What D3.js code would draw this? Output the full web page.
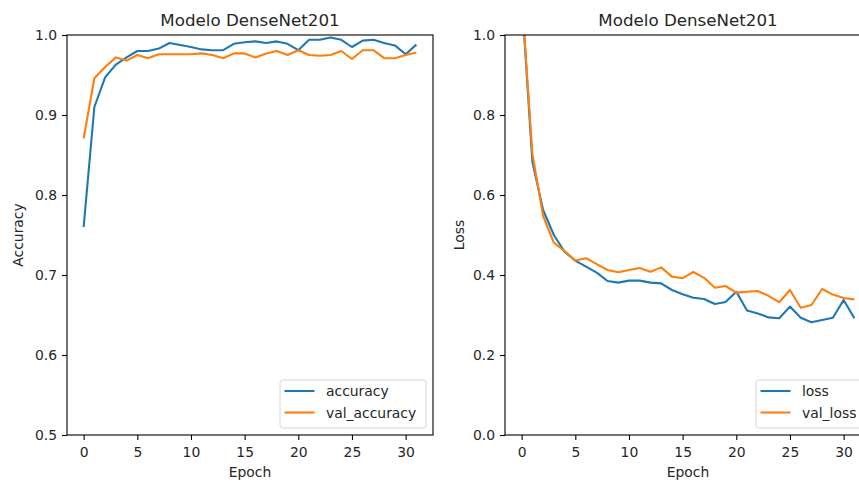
<!DOCTYPE html>
<html>
<head>
<meta charset="utf-8">
<script src="https://cdn.jsdelivr.net/npm/d3@7"></script>
<style>
  body { margin: 0; background: #fff; }
  svg { display: block; font-family: "DejaVu Sans", sans-serif; }
</style>
</head>
<body>
<div id="chart"></div>
<script>
var width = 859, height = 484;

// epochs 0..31
var epochs = d3.range(32);

var accuracy = [0.760, 0.910, 0.947, 0.963, 0.972, 0.980, 0.980, 0.983, 0.990, 0.9875,
    0.985, 0.982, 0.981, 0.981, 0.989, 0.991, 0.992, 0.990, 0.992, 0.989,
    0.981, 0.994, 0.994, 0.997, 0.994, 0.985, 0.993, 0.994, 0.990, 0.987,
    0.976, 0.988];
var valAccuracy = [0.871, 0.946, 0.960, 0.972, 0.968, 0.975, 0.971, 0.976, 0.976, 0.976,
    0.976, 0.977, 0.975, 0.971, 0.977, 0.977, 0.972, 0.977, 0.980, 0.975,
    0.981, 0.975, 0.974, 0.975, 0.980, 0.970, 0.981, 0.981, 0.971, 0.971,
    0.975, 0.978];

var loss = [1.10, 0.683, 0.5625, 0.500, 0.458, 0.436, 0.421, 0.406, 0.385, 0.381,
    0.386, 0.386, 0.381, 0.379, 0.3625, 0.352, 0.343, 0.340, 0.3275, 0.3325,
    0.358, 0.311, 0.304, 0.294, 0.292, 0.321, 0.293, 0.282, 0.2875, 0.293,
    0.3375, 0.292];
var valLoss = [1.10, 0.704, 0.5475, 0.481, 0.460, 0.436, 0.442, 0.427, 0.4125, 0.407,
    0.4125, 0.4175, 0.408, 0.419, 0.396, 0.392, 0.4075, 0.393, 0.368, 0.3725,
    0.356, 0.358, 0.360, 0.348, 0.332, 0.3625, 0.318, 0.325, 0.365, 0.351,
    0.3425, 0.339];

var accTicks = [0.5, 0.6, 0.7, 0.8, 0.9, 1.0];
var lossTicks = [0.0, 0.2, 0.4, 0.6, 0.8, 1.0];
var epochTicks = [0, 5, 10, 15, 20, 25, 30];

var blue = "#1f77b4", orange = "#ff7f0e";
var textColor = "#262626";

var svg = d3.select("#chart").append("svg")
    .attr("width", width)
    .attr("height", height);

var panels = [
    { id: "acc", left: 67, right: 433, yDomain: [0.5, 1.0], yTicks: accTicks,
      yLabel: "Accuracy", yLabelX: 23, series: [accuracy, valAccuracy],
      names: ["accuracy", "val_accuracy"], legendW: 146 },
    { id: "loss", left: 505, right: 871, yDomain: [0, 1.0], yTicks: lossTicks,
      yLabel: "Loss", yLabelX: 464, series: [loss, valLoss],
      names: ["loss", "val_loss"], legendW: 108 }
];
var plotTop = 35, plotBottom = 435;

panels.forEach(function (p) {
    var x = d3.scaleLinear().domain([-1.55, 32.55]).range([p.left, p.right]);
    var y = d3.scaleLinear().domain(p.yDomain).range([plotBottom, plotTop]);
    var g = svg.append("g").attr("class", p.id);

    g.append("clipPath").attr("id", "clip-" + p.id)
        .append("rect")
        .attr("x", p.left).attr("y", plotTop)
        .attr("width", p.right - p.left).attr("height", plotBottom - plotTop);

    // Lines
    var line = d3.line()
        .x(function (d, i) { return x(epochs[i]); })
        .y(function (d) { return y(d); });

    [blue, orange].forEach(function (c, k) {
        g.append("path")
            .datum(p.series[k])
            .attr("clip-path", "url(#clip-" + p.id + ")")
            .attr("fill", "none")
            .attr("stroke", c)
            .attr("stroke-width", 2.1)
            .attr("stroke-linejoin", "round")
            .attr("d", line);
    });

    // Axes
    var xAxis = g.append("g")
        .attr("transform", "translate(0," + plotBottom + ")")
        .call(d3.axisBottom(x).tickValues(epochTicks).tickSize(5).tickPadding(6.8).tickSizeOuter(0));
    var yAxis = g.append("g")
        .attr("transform", "translate(" + p.left + ",0)")
        .call(d3.axisLeft(y).tickValues(p.yTicks).tickFormat(d3.format(".1f")).tickSize(5).tickPadding(5).tickSizeOuter(0));

    [xAxis, yAxis].forEach(function (a) {
        a.select(".domain").remove();
        a.selectAll("text").attr("font-size", 13.9).attr("fill", textColor)
            .attr("font-family", "DejaVu Sans");
        a.selectAll("line").attr("stroke", "#000").attr("stroke-width", 1.1);
    });

    // Spines
    g.append("rect")
        .attr("x", p.left).attr("y", plotTop)
        .attr("width", p.right - p.left).attr("height", plotBottom - plotTop)
        .attr("fill", "none").attr("stroke", "#000").attr("stroke-width", 1.1);

    var cx = (p.left + p.right) / 2;

    g.append("text")
        .attr("x", cx).attr("y", 26)
        .attr("text-anchor", "middle")
        .attr("font-size", 16.7)
        .attr("fill", textColor)
        .text("Modelo DenseNet201");

    g.append("text")
        .attr("x", cx).attr("y", 477)
        .attr("text-anchor", "middle")
        .attr("font-size", 13.9)
        .attr("fill", textColor)
        .text("Epoch");

    g.append("text")
        .attr("transform", "translate(" + p.yLabelX + "," + ((plotTop + plotBottom) / 2) + ") rotate(-90)")
        .attr("text-anchor", "middle")
        .attr("font-size", 13.9)
        .attr("fill", textColor)
        .text(p.yLabel);

    // Legend
    var lw = p.legendW, lh = 48;
    var lx = p.right - 7 - lw, ly = plotBottom - 7 - lh;
    var legend = g.append("g").attr("transform", "translate(" + lx + "," + ly + ")");
    legend.append("rect")
        .attr("width", lw).attr("height", lh)
        .attr("rx", 3)
        .attr("fill", "#fff").attr("fill-opacity", 0.8)
        .attr("stroke", "#d6d6d6").attr("stroke-width", 1);

    p.names.forEach(function (n, k) {
        var yy = 11 + k * 21.5;
        legend.append("line")
            .attr("x1", 4.5).attr("x2", 34.5)
            .attr("y1", yy).attr("y2", yy)
            .attr("stroke", k === 0 ? blue : orange)
            .attr("stroke-width", 2.1);
        legend.append("text")
            .attr("x", 46).attr("y", yy + 5)
            .attr("font-size", 13.9)
            .attr("fill", textColor)
            .text(n);
    });
});
</script>
</body>
</html>
